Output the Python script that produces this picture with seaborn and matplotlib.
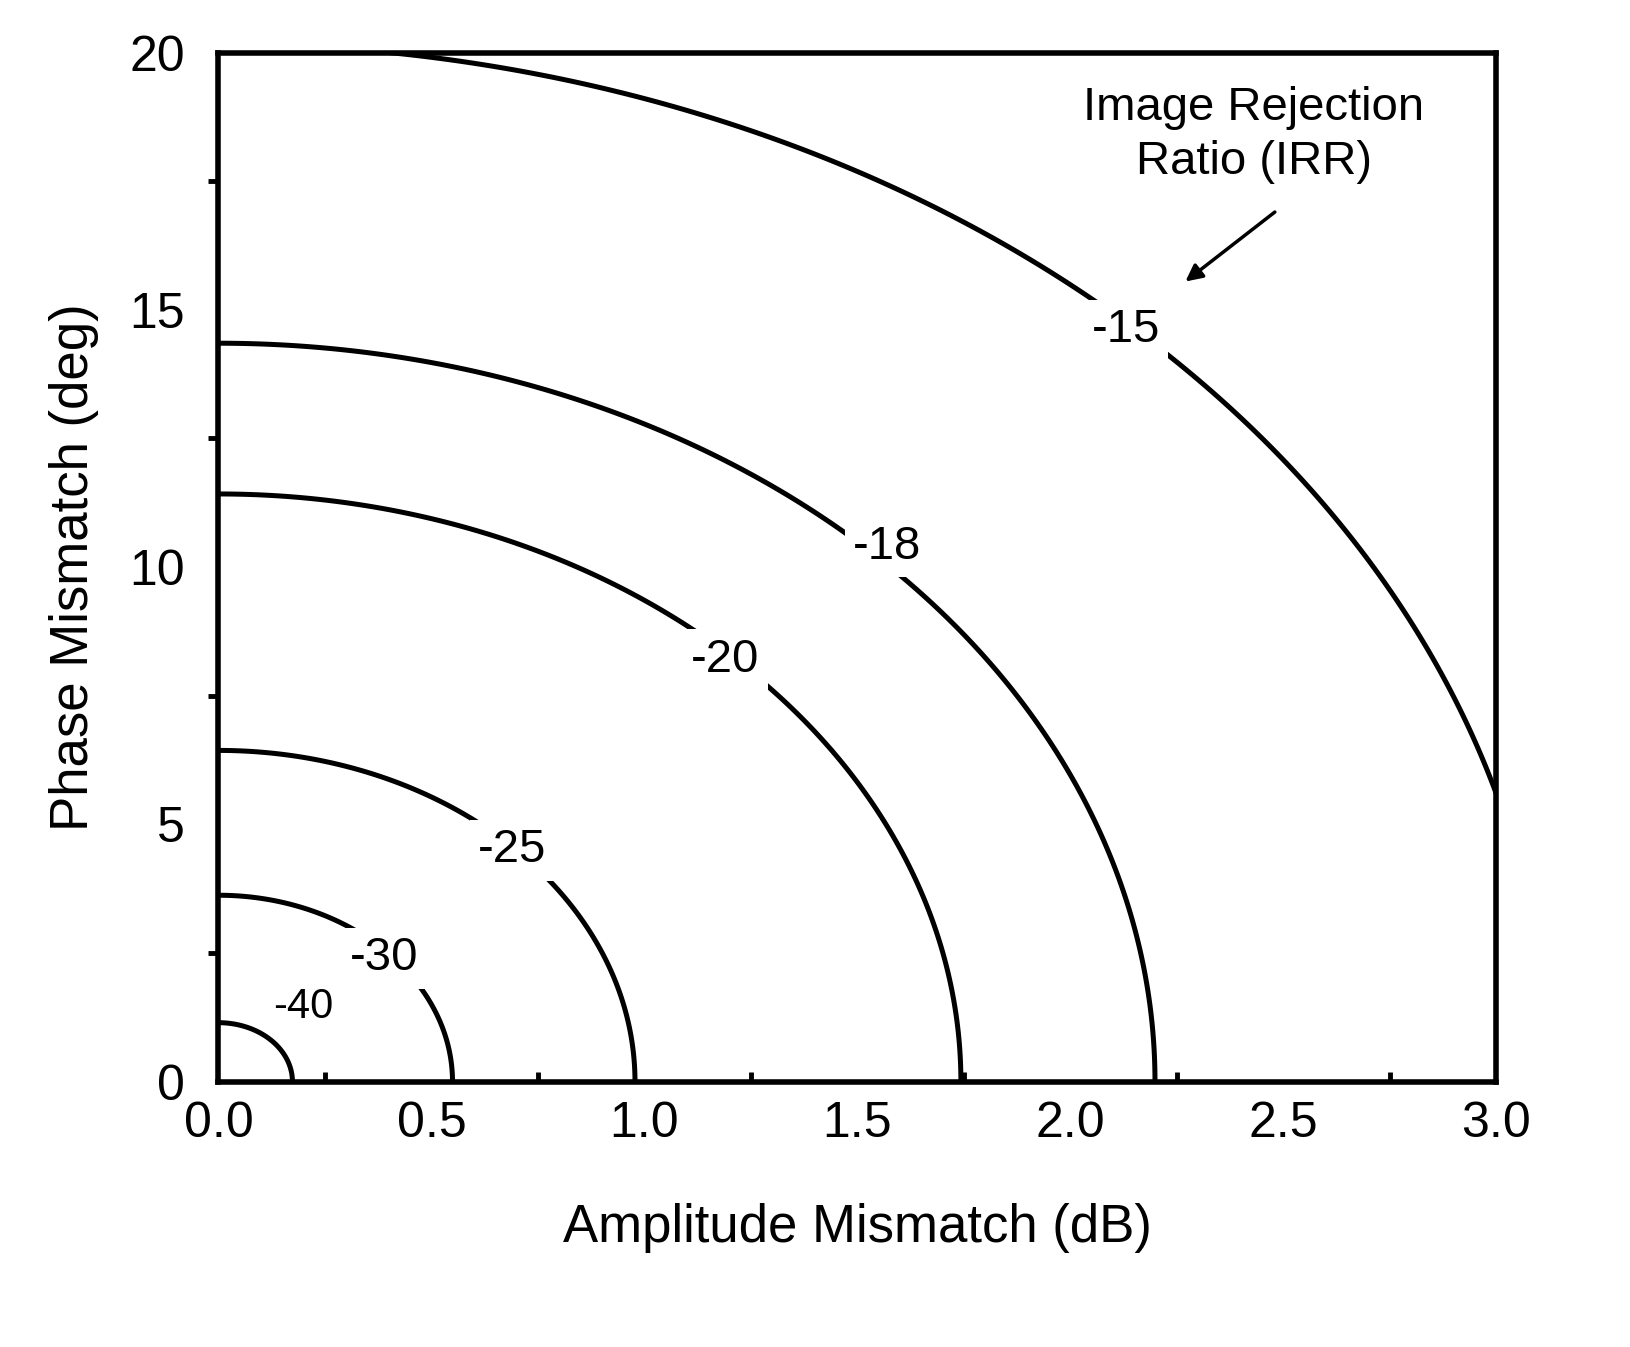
import numpy as np
import matplotlib
matplotlib.use("Agg")
import matplotlib.pyplot as plt
import seaborn as sns

sns.set_style("white")
plt.rcParams['font.family'] = ['Liberation Sans', 'DejaVu Sans']
plt.rcParams['text.color'] = 'black'
plt.rcParams['axes.labelcolor'] = 'black'
plt.rcParams['xtick.color'] = 'black'
plt.rcParams['ytick.color'] = 'black'

levels = [-40, -30, -25, -20, -18, -15]
label_pos = [(0.2, 1.45), (0.39, 2.4), (0.69, 4.5), (1.19, 8.2), (1.57, 10.4), (2.13, 14.6)]
x_ticks = [0.0, 0.5, 1.0, 1.5, 2.0, 2.5, 3.0]
y_ticks = [0, 5, 10, 15, 20]

amp = np.linspace(0, 3.0, 600)
ph = np.linspace(0, 20, 600)
A, P = np.meshgrid(amp, ph)
g = 10 ** (A / 20)
th = np.deg2rad(P)
irr = 10 * np.log10((1 - 2 * g * np.cos(th) + g ** 2) / (1 + 2 * g * np.cos(th) + g ** 2) + 1e-12)

fig = plt.figure(figsize=(16.3, 13.47), dpi=100)
ax = fig.add_axes([0.134, 0.197, 0.784, 0.764])
ax.contour(A, P, irr, levels=levels, colors='black', linewidths=3.6, linestyles='solid')
for lev, (lx, ly) in zip(levels, label_pos):
    bb = None if lev == -40 else dict(facecolor='white', edgecolor='none', pad=6)
    ax.text(lx, ly, str(lev), ha='center', va='center', fontsize=34 if lev != -40 else 30,
            bbox=bb, zorder=5)

ax.set_xlim(0, 3.0)
ax.set_ylim(0, 20)
ax.set_xticks(x_ticks)
ax.set_xticklabels([f"{v:.1f}" for v in x_ticks])
ax.set_yticks(y_ticks)
ax.set_xticks(np.arange(0.25, 3.0, 0.5), minor=True)
ax.set_yticks(np.arange(2.5, 20, 5), minor=True)
ax.tick_params(which='both', direction='in', width=3.5, labelsize=36, pad=14)
ax.tick_params(which='major', length=10)
ax.tick_params(which='minor', length=7, bottom=True, left=True)
ax.tick_params(axis='y', which='both', direction='out')
for s in ax.spines.values():
    s.set_linewidth(4)
    s.set_color('black')
ax.set_xlabel("Amplitude Mismatch (dB)", fontsize=38, labelpad=40)
ax.set_ylabel("Phase Mismatch (deg)", fontsize=38, labelpad=22)
ax.text(2.43, 18.4, "Image Rejection\nRatio (IRR)", ha='center', va='center',
        fontsize=34, linespacing=1.3)
ax.annotate("", xy=(2.27, 15.55), xytext=(2.48, 16.9),
            arrowprops=dict(arrowstyle='-|>', color='black', lw=2.5, mutation_scale=25,
                            shrinkA=0, shrinkB=0))
fig.savefig("out.png", dpi=100)
